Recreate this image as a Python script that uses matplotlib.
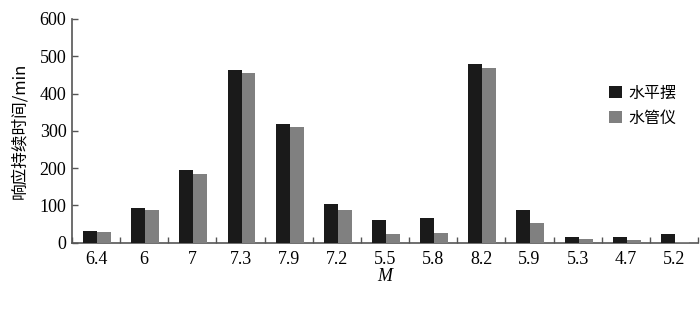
import matplotlib
matplotlib.use("Agg")
import matplotlib.pyplot as plt
import numpy as np

categories = ["6.4", "6", "7", "7.3", "7.9", "7.2", "5.5", "5.8", "8.2", "5.9", "5.3", "4.7", "5.2"]
horizontal_pendulum = [31, 92, 194, 462, 319, 103, 61, 66, 480, 89, 14, 16, 23]
water_tube = [28, 89, 185, 455, 309, 89, 23, 26, 468, 54, 9, 6, 3]
series_names = ["水平摆", "水管仪"]
yticks = [0, 100, 200, 300, 400, 500, 600]

fig = plt.figure(figsize=(7.0, 3.11), dpi=100)
ax = fig.add_axes([72/700, 1-242.7/311, (698-72)/700, (242.7-19)/311])

x = np.arange(len(categories))
w = 0.29
ax.bar(x - w/2 + 0.02, horizontal_pendulum, width=w, color="#1a1a1a", label=series_names[0], zorder=3)
ax.bar(x + w/2 + 0.02, water_tube, width=w, color="#808080", label=series_names[1], zorder=3)

ax.set_xlim(-0.5, len(categories) - 0.5)
ax.set_ylim(0, 600)
ax.set_yticks(yticks)
ax.set_yticklabels([str(v) for v in yticks], family="Liberation Serif", fontsize=13)

ax.set_xticks(x)
ax.set_xticklabels(categories, family="Liberation Serif", fontsize=13)
ax.tick_params(axis="x", length=0, pad=6)
ax.set_xticks(np.arange(len(categories) + 1) - 0.5, minor=True)
ax.tick_params(axis="x", which="minor", direction="in", length=4, color="#555555", width=1)
ax.tick_params(axis="y", direction="in", length=4, color="#555555", width=1, pad=4)

for s in ["top", "right"]:
    ax.spines[s].set_visible(False)
for s in ["left", "bottom"]:
    ax.spines[s].set_color("#555555")
    ax.spines[s].set_linewidth(1.2)

ax.set_xlabel("M", family="Liberation Serif", style="italic", fontsize=13, labelpad=0)
ax.set_ylabel("响应持续时间/min", family=["Noto Sans CJK SC", "DejaVu Sans"], fontsize=12, labelpad=8)

leg = ax.legend(loc="upper left", bbox_to_anchor=(0.835, 0.77), frameon=False,
                prop={"family": ["Noto Sans CJK SC"], "size": 11.5},
                handlelength=0.8, handleheight=0.8, handletextpad=0.4, labelspacing=0.5)

fig.savefig("out.png", dpi=100)
